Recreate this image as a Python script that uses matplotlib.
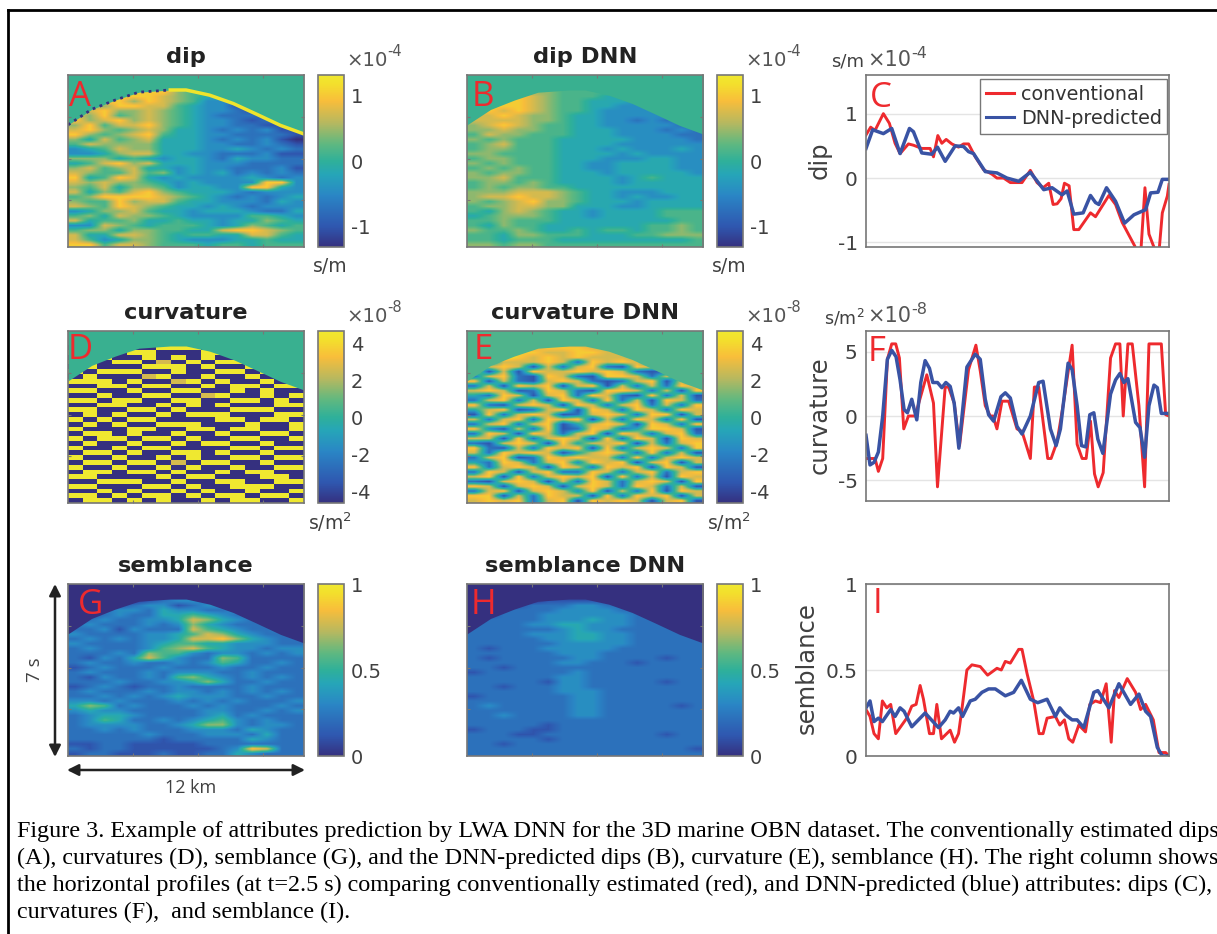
import numpy as np
import matplotlib
matplotlib.use("Agg")
import matplotlib.pyplot as plt
from matplotlib.colors import LinearSegmentedColormap, Normalize
from matplotlib.cm import ScalarMappable

W, H = 1217, 934

# ---- image panels: estimated coarse grids (digit 0..9 = low..high of the colour range)
dip = ["4444444444444444","4444444444444444","4444444444444444","8888888655544444",
"8878887654432222","8788687653322222","8668877543312322","8786676543321222",
"7685676543222122","8678676543321212","6857786543322111","7865676443232311",
"8656785443322221","6475674443232310","5766664443322321","3457664443343232",
"3346774433222311","6664543443243322","4578674443332222","6756744343322231",
"7655756343423232","8458743433334323","7676654343333883","6574665344338843",
"7465786544432333","5688887654323234","6558677544333243","7658765443432333",
"3466754434443224","5647665433335543","7455644544344654","3376545554346545",
"5664665544788765","7447765455447754","7534665433344544","8857765554554555"]
dip_dnn = ["5555555555555555","5555555555555555","5555555555555555","6666665555555555",
"7788765554444444","7888765544433333","7888765544333333","7878765543333232",
"7787665443333323","7777665443323232","6787655443333322","6676655444333232",
"5766555444333322","6565554444433332","5675554444333333","5665554443433343",
"6655554444343333","5665554443334433","6565554433444433","5656554433444433",
"6566554443444443","6675554444345444","5665654444344444","5656655444444444",
"6667776544333444","6778776544343344","6567866544434444","5667766444334444",
"5467654434444555","4566654434444555","5565554444444455","5465544444445565",
"6556544545545565","5546655544455666","5545554444444445","6656655555555555"]
curv = ["5555555555555555","5555555555555555","5555555555555555","0099009990099000",
"9900990009900990","0990090909009099","9009907090990900","0900099909009009",
"9099900900990990","0900079009009009","9990900790900900","0099099009099099",
"9900900990090900","0090099007900909","9909900990099090","0099009090900099",
"9900990900099900","0909009099900099","9090990000990990","0909009990009009",
"9000990099099009","0990900900900990","9099099090099009","0900900909900900",
"9009099000099099","0990900990900900","9009009090099099","0990990709900900",
"9009009090090099","0990990900909900","9900009099000990","0099900900990099",
"9900099090099900","0090900909009009","9909099090990990","0990909009099009"]
curv_dnn = ["5555555555555555","5555555555555555","5555555555555555","6677788877777666",
"7788877887766655","7298787877767666","8277787287872766","2787172782187776",
"8171877878721287","2782187218872718","8172178721278171","2718781781727287",
"7871287218872718","4287178287218271","2782718728271872","8217871872782728",
"4781278187287287","1827871278728817","7278287817287281","2782781478718728",
"8317281287248871","2871872781872782","7718278718287187","2178718477817278",
"8217287818278728","7287871478728271","2781287877282787","4287278387817817",
"8278718728781871","2871782287278278","7818278781827187","2178717287278718",
"8717871787287271","2781787381728187","8817287718287817","7878278187871781"]
semb = ["0000000000000000","0000000000000000","0000000000000000","0000012332100000",
"0001233123321000","0023324332232000","0123224454322100","1232233476432210",
"2322232364322221","2231322275432232","3222233457643222","2323233477864322",
"3222234554433322","2322235675433233","2223265532332323","2132475322652222",
"2322322323542232","1232223222322322","2322232333223222","2132232564323232",
"2223223346422322","1232122322223222","2322232332323232","2232323433322322",
"3323222323232223","4652322232322232","3433222223322323","2344322223423222",
"2354223234532322","2333322346632332","2232322233324322","2222232223332422",
"2222221222224322","1122111112222222","2122111111238722","1221112112243222"]
semb_dnn = ["0000000000000000","0000000000000000","0000000000000000","0000011111100000",
"0001222332210000","0022223333222000","0122233333322100","1222233343322210",
"2222334433322211","2222223433222221","2222333443322222","2222233443322222",
"2222223333322222","2122233333222222","2222223332222222","2122222332222122",
"2222223322212222","2212222222222222","1222222322222222","2222223322222222",
"2222213322222122","2212223322222222","2222223332222222","1222222332222222",
"2222222332222222","2322222332222212","2222222332222222","2232222332222222",
"2222222222222222","2222212222222222","1222112222222222","2221122222222122",
"2222212222222222","2212222222222222","2222222222222221","2222222222222222"]

# top of the data region in the images
ridge_km = [0, 1.2, 2.4, 3.6, 5.2, 6.0, 7.2, 8.4, 9.6, 10.8, 12.0]
ridge_s = [2.03, 1.40, 1.02, 0.70, 0.61, 0.61, 0.82, 1.16, 1.60, 2.05, 2.40]

# ---- profiles (trace position, value)
dip_conv_t = [0,14,27,52,70,87,102,127,142,167,192,202,215,227,240,257,277,292,307,327,352,377,392,412,432,467,492,512,530,547,560,572,584,594,608,622,637,672,687,727,747,767,805,807,822,835,847,864,877,887,902,907]
dip_conv_v = [.67,.79,.74,1.0,.85,.54,.38,.53,.51,.46,.46,.33,.66,.54,.6,.53,.48,.53,.53,.33,.13,.06,0,0,-.07,-.07,.12,-.07,-.15,-.08,-.41,-.40,-.32,-.08,-.12,-.8,-.8,-.54,-.6,-.27,-.41,-.69,-1.06,-1.2,-1.2,-.15,-.87,-1.1,-1.15,-.54,-.28,-.1]
dip_dnn_t = [0,20,52,77,102,130,142,167,197,214,237,267,292,307,322,357,392,422,457,492,532,557,587,602,622,650,672,687,697,720,747,774,802,837,852,874,887,907]
dip_dnn_v = [.46,.75,.69,.77,.38,.77,.72,.39,.37,.48,.26,.5,.49,.41,.38,.1,.08,0,-.05,.09,-.18,-.15,-.26,-.2,-.56,-.54,-.27,-.38,-.41,-.15,-.36,-.7,-.57,-.49,-.23,-.22,-.02,-.02]

curv_conv_t = [0,27,37,50,64,77,89,100,113,127,147,182,202,214,237,247,264,280,307,329,342,357,372,380,392,407,427,452,467,492,504,517,544,554,572,592,617,632,647,659,672,684,695,710,732,747,760,770,784,797,817,834,847,884,897,907]
curv_conv_v = [-3.3,-3.3,-4.3,-3.3,4.4,5.6,5.6,4.5,-1,0,0,3.2,1,-5.5,2.25,2.25,1,-2.3,3.6,5.5,3.5,.8,0,0,-1,1.15,1.15,-1,-1.2,-3.3,2.25,2.25,-3.3,-3.3,-2,1.15,5.5,-2.2,-3.3,-3.3,-.4,-4.5,-5.5,-4.4,4.5,5.6,5.6,0,5.6,5.6,.8,-5.5,5.6,5.6,.1,0]
curv_dnn_t = [0,12,24,37,50,64,77,90,102,114,124,137,152,164,177,190,200,214,227,239,252,264,278,302,327,342,357,367,382,404,417,432,452,467,492,517,530,552,569,582,605,617,632,645,658,670,682,694,709,732,747,760,772,784,807,820,834,847,862,872,884,907]
curv_dnn_v = [-1.5,-3.8,-3.6,-2.8,0,4.4,5.1,4.6,2.8,.5,.25,1.3,-.3,2.6,4.3,3.7,2.6,2.6,2.2,2.6,2.3,1,-2.5,3.8,4.8,4.4,1.3,.1,-.4,1.5,1.8,1.4,-.8,-1.4,0,2.6,2.7,-1,-2.3,-1,4.1,3.6,.8,-2.3,-2.4,.1,.25,-1.8,-2.9,1.7,2.8,3.3,2.6,2.9,-.5,-.9,-3.2,.8,2.4,2.2,.2,.2]

semb_conv_t = [0,12,24,37,49,62,74,89,122,137,150,162,172,190,202,212,226,252,265,277,287,302,317,342,364,392,405,417,432,457,467,482,502,518,530,542,567,580,594,607,619,637,657,670,687,702,719,734,744,757,782,807,822,837,860,877,897,907]
semb_conv_v = [.27,.23,.13,.1,.32,.28,.3,.13,.22,.29,.3,.41,.33,.13,.13,.3,.1,.15,.08,.13,.27,.5,.53,.52,.47,.51,.5,.55,.54,.62,.62,.48,.32,.13,.13,.22,.23,.18,.21,.1,.08,.18,.14,.3,.32,.31,.42,.08,.38,.34,.45,.37,.27,.3,.21,.02,.02,0]
semb_dnn_t = [0,12,24,37,49,74,87,102,114,137,177,217,237,252,262,277,289,312,327,347,367,387,417,442,465,492,514,542,567,580,597,617,632,652,682,694,727,757,792,817,837,852,872,887,907]
semb_dnn_v = [.28,.32,.2,.22,.2,.27,.23,.28,.26,.17,.25,.165,.21,.26,.25,.28,.23,.32,.33,.37,.39,.39,.35,.37,.44,.33,.31,.33,.23,.28,.24,.21,.21,.165,.37,.38,.28,.42,.3,.36,.26,.23,.05,0,0]

series_names = ["conventional", "DNN-predicted"]
caption = ["Figure 3. Example of attributes prediction by LWA DNN for the 3D marine OBN dataset. The conventionally estimated dips",
"(A), curvatures (D), semblance (G), and the DNN-predicted dips (B), curvature (E), semblance (H). The right column shows",
"the horizontal profiles (at t=2.5 s) comparing conventionally estimated (red), and DNN-predicted (blue) attributes: dips (C),",
"curvatures (F),  and semblance (I)."]

parula = LinearSegmentedColormap.from_list("parula", [(0, "#35307f"), (.12, "#2f58b0"), (.3, "#2a86c5"), (.42, "#26a5b8"),
    (.5, "#2fb099"), (.6, "#5fb880"), (.72, "#b5b860"), (.85, "#f8bd3b"), (.95, "#f3e02c"), (1, "#efe830")])
RED, BLUE, GREY, TXT = "#ee2a2e", "#3953a4", "#777777", "#404040"

fig = plt.figure(figsize=(W/100, H/100), dpi=100, facecolor="white")

def px_axes(x0, y0, x1, y1, **kw):
    return fig.add_axes([x0/W, 1-y1/H, (x1-x0)/W, (y1-y0)/H], **kw)

ov = px_axes(0, 0, W, H, zorder=10)
ov.set_xlim(0, W); ov.set_ylim(H, 0); ov.axis("off"); ov.patch.set_alpha(0)

def t(x, y, s, **kw):
    kw.setdefault("color", TXT); kw.setdefault("ha", "center"); kw.setdefault("va", "center")
    ov.text(x, y, s, **kw)

def image_panel(grid, x0, y0, vmin, vmax, title, letter, ticks, ticklabels, exp, unit, bg, lx, ly, interp="bilinear"):
    x1, y1 = x0+236, y0+172
    ax = px_axes(x0, y0, x1, y1)
    arr = np.array([[int(c) for c in r] for r in grid], float)/9*(vmax-vmin)+vmin
    norm = Normalize(vmin, vmax)
    ax.imshow(arr, cmap=parula, norm=norm, extent=[0, 12, 7, 0], aspect="auto", interpolation=interp)
    ax.fill_between(ridge_km, 0, ridge_s, color=bg, lw=0)
    ax.set_xlim(0, 12); ax.set_ylim(7, 0)
    ax.set_xticks([3.3, 6.6, 9.9]); ax.set_yticks([1.7, 3.4, 5.1])
    ax.tick_params(direction="in", length=2, width=.8, color=GREY, labelbottom=False, labelleft=False, top=True, right=True)
    for s in ax.spines.values():
        s.set_color(GREY); s.set_linewidth(1.2)
    cax = px_axes(x0+250, y0, x0+276, y1)
    cb = fig.colorbar(ScalarMappable(norm, parula), cax=cax)
    cb.set_ticks(ticks, labels=ticklabels)
    cax.tick_params(length=0, labelsize=14, labelcolor=TXT, pad=5)
    cb.outline.set_edgecolor(GREY); cb.outline.set_linewidth(1.2)
    t(x0+118, y0-18, title, fontsize=16.2, fontweight="bold", color="#222222")
    t(x0+lx, y0+ly, letter, fontsize=25, color=RED, family="Open Sans")
    if exp:
        t(x0+278, y0-15, "×10", fontsize=14.2, ha="left", color="#555555")
        t(x0+319, y0-24, exp, fontsize=10.5, ha="left", color="#555555")
    if unit:
        t(x0+262, y1+19, unit, fontsize=13.5)
    return ax

TEAL, TEAL2, NAVY = "#39b090", "#4fb48c", "#35307f"
dipt, dipl = [-1, 0, 1], ["-1", "0", "1"]
curt, curl = [-4, -2, 0, 2, 4], ["-4", "-2", "0", "2", "4"]
semt, seml = [0, .5, 1], ["0", "0.5", "1"]
a = image_panel(dip, 68, 75, -1.31, 1.32, "dip", "A", dipt, dipl, "-4", "s/m", TEAL, 12, 22)
a.plot(ridge_km[:5], ridge_s[:5], color=NAVY, lw=2, ls=":")
a.plot(ridge_km[4:], ridge_s[4:], color="#efe42c", lw=2.5)
image_panel(dip_dnn, 467, 75, -1.31, 1.32, "dip DNN", "B", dipt, dipl, "-4", "s/m", TEAL, 16, 22)
image_panel(curv, 68, 331, -4.6, 4.65, "curvature", "D", curt, curl, "-8", "s/m$^2$", TEAL, 12, 19, interp="nearest")
image_panel(curv_dnn, 467, 331, -4.6, 4.65, "curvature DNN", "E", curt, curl, "-8", "s/m$^2$", TEAL2, 16, 19)
image_panel(semb, 68, 584, 0, 1, "semblance", "G", semt, seml, None, None, NAVY, 22, 21)
image_panel(semb_dnn, 467, 584, 0, 1, "semblance DNN", "H", semt, seml, None, None, NAVY, 16, 21)

def profile_panel(y0, y1, ylim, ticks, labels, red, blue, ylabel, ylx, yly, letter, lx, ly):
    ax = px_axes(866, y0, 1169, y1)
    ax.plot(red[0], red[1], color=RED, lw=2.1, label=series_names[0])
    ax.plot(blue[0], blue[1], color=BLUE, lw=2.5, label=series_names[1])
    ax.set_xlim(0, 907); ax.set_ylim(*ylim)
    ax.set_xticks([]); ax.set_yticks(ticks, labels=labels)
    ax.grid(axis="y", color="#e4e4e4", lw=1)
    ax.set_axisbelow(True)
    ax.tick_params(length=0, labelsize=14.5, labelcolor=TXT, pad=6)
    for s in ax.spines.values():
        s.set_color(GREY); s.set_linewidth(1.2)
    t(ylx, yly, ylabel, rotation=90, fontsize=17.5)
    t(lx, ly, letter, fontsize=25, color=RED, family="Open Sans")
    return ax

c = profile_panel(75, 247, (-1.07, 1.6), [-1, 0, 1], ["-1", "0", "1"], (dip_conv_t, dip_conv_v), (dip_dnn_t, dip_dnn_v), "dip", 820, 160, "C", 881, 98)
f = profile_panel(331, 501, (-6.6, 6.6), [-5, 0, 5], ["-5", "0", "5"], (curv_conv_t, curv_conv_v), (curv_dnn_t, curv_dnn_v), "curvature", 820, 415, "F", 877, 352)
profile_panel(584, 756, (0, 1), [0, .5, 1], ["0", "0.5", "1"], (semb_conv_t, semb_conv_v), (semb_dnn_t, semb_dnn_v), "semblance", 807, 668, "I", 877, 604)
leg = c.legend(loc="upper right", bbox_to_anchor=(0.995, 0.975), borderaxespad=0, fontsize=13.8, fancybox=False, framealpha=1,
               edgecolor=GREY, labelcolor="#333333", handlelength=1.45, handletextpad=.35, labelspacing=.25, borderpad=.3)
for h in leg.get_lines():
    h.set_linewidth(2.2)

# unit labels over the profiles
t(831, 62, "s/m", fontsize=13, ha="left")
t(867, 60, "×10", fontsize=15, ha="left", color="#555555")
t(911, 54, "-4", fontsize=11.5, ha="left", color="#555555")
t(824, 318, "s/m$^2$", fontsize=12.5, ha="left")
t(867, 316, "×10", fontsize=15, ha="left", color="#555555")
t(911, 309, "-8", fontsize=11.5, ha="left", color="#555555")

# scale arrows
arr = dict(arrowstyle="<|-|>", color="#222222", lw=1.8, mutation_scale=17, shrinkA=0, shrinkB=0)
ov.annotate("", xy=(55, 757), xytext=(55, 584), arrowprops=arr)
ov.annotate("", xy=(305, 770), xytext=(67, 770), arrowprops=arr)
t(35, 670, "7 s", rotation=90, fontsize=13.5, family="Open Sans")
t(191, 788, "12 km", fontsize=13, family="Open Sans")

# page frame and caption
ov.plot([8, 8], [H, 9.5], color="black", lw=2, solid_capstyle="projecting")
ov.plot([8, W], [9.5, 9.5], color="black", lw=2)
for yy, line in zip([831, 858, 885, 912], caption):
    t(17, yy, line, fontsize=17.35, family="Liberation Serif", ha="left", color="black", clip_on=True)

fig.savefig("out.png", dpi=100)
